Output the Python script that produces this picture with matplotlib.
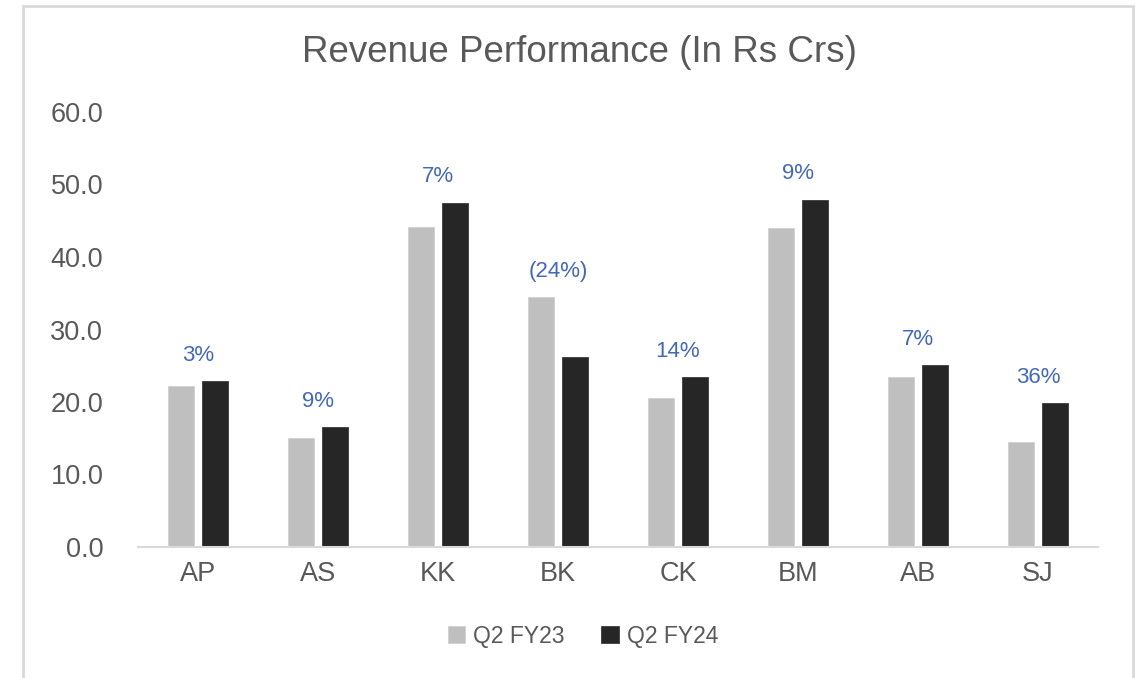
import numpy as np
import matplotlib
matplotlib.use('Agg')
import matplotlib.pyplot as plt
from matplotlib.patches import Rectangle

plt.rcParams['font.family'] = ['Liberation Sans', 'DejaVu Sans']

# data
categories = ['AP', 'AS', 'KK', 'BK', 'CK', 'BM', 'AB', 'SJ']
q2_fy23 = [22.2, 15.1, 44.2, 34.5, 20.6, 44.0, 23.4, 14.5]
q2_fy24 = [22.9, 16.5, 47.5, 26.25, 23.4, 47.9, 25.1, 19.8]
growth = ['3%', '9%', '7%', '(24%)', '14%', '9%', '7%', '36%']
yticks = [0, 10, 20, 30, 40, 50, 60]

grey = '#bfbfbf'
dark = '#262626'
txt = '#595959'
blue = '#4468b8'

fig = plt.figure(figsize=(11.4, 6.78), dpi=100)
fig.patch.set_facecolor('white')
ax = fig.add_axes([138/1140, 1 - 547/678, 960/1140, 435/678])

x = np.arange(len(categories))
w = 0.217
b1 = ax.bar(x - 0.142, q2_fy23, w, color=grey, label='Q2 FY23',
            edgecolor='#d0d0d0', linewidth=0.6)
b2 = ax.bar(x + 0.142, q2_fy24, w, color=dark, label='Q2 FY24',
            edgecolor='#3a3a3a', linewidth=0.6)

for i, lab in enumerate(growth):
    top = max(q2_fy23[i], q2_fy24[i])
    ax.annotate(lab, (x[i], top), xytext=(0, 11), textcoords='offset points',
                ha='center', va='bottom', color=blue, fontsize=16)

ax.set_xlim(-0.5, len(categories) - 0.5)
ax.set_ylim(0, 60)
ax.set_yticks(yticks)
ax.set_yticklabels([f'{v:.1f}' for v in yticks])
ax.set_xticks(x)
ax.set_xticklabels(categories)
ax.tick_params(axis='y', length=0, pad=25, labelsize=19.5, labelcolor=txt)
ax.tick_params(axis='x', length=0, pad=10, labelsize=19.5, labelcolor=txt)
for s in ['top', 'right', 'left']:
    ax.spines[s].set_visible(False)
ax.spines['bottom'].set_color('#d9d9d9')
ax.spines['bottom'].set_linewidth(1.5)

fig.text(579/1140, 1 - 52/678, 'Revenue Performance (In Rs Crs)', ha='center',
         va='center', fontsize=26.5, color=txt)

leg = fig.legend(handles=[b1, b2], loc='center', bbox_to_anchor=(583/1140, 1 - 636/678),
                 ncol=2, frameon=False, fontsize=16.5, handlelength=0.75,
                 handleheight=0.75, handletextpad=0.35, columnspacing=1.6)
for t in leg.get_texts():
    t.set_color(txt)

fig.patches.append(Rectangle((23/1140, -0.05), 1110/1140, 1.05 - 6/678,
                             transform=fig.transFigure, fill=False,
                             edgecolor='#d9d9d9', linewidth=2))

fig.savefig('out.png', dpi=100)
